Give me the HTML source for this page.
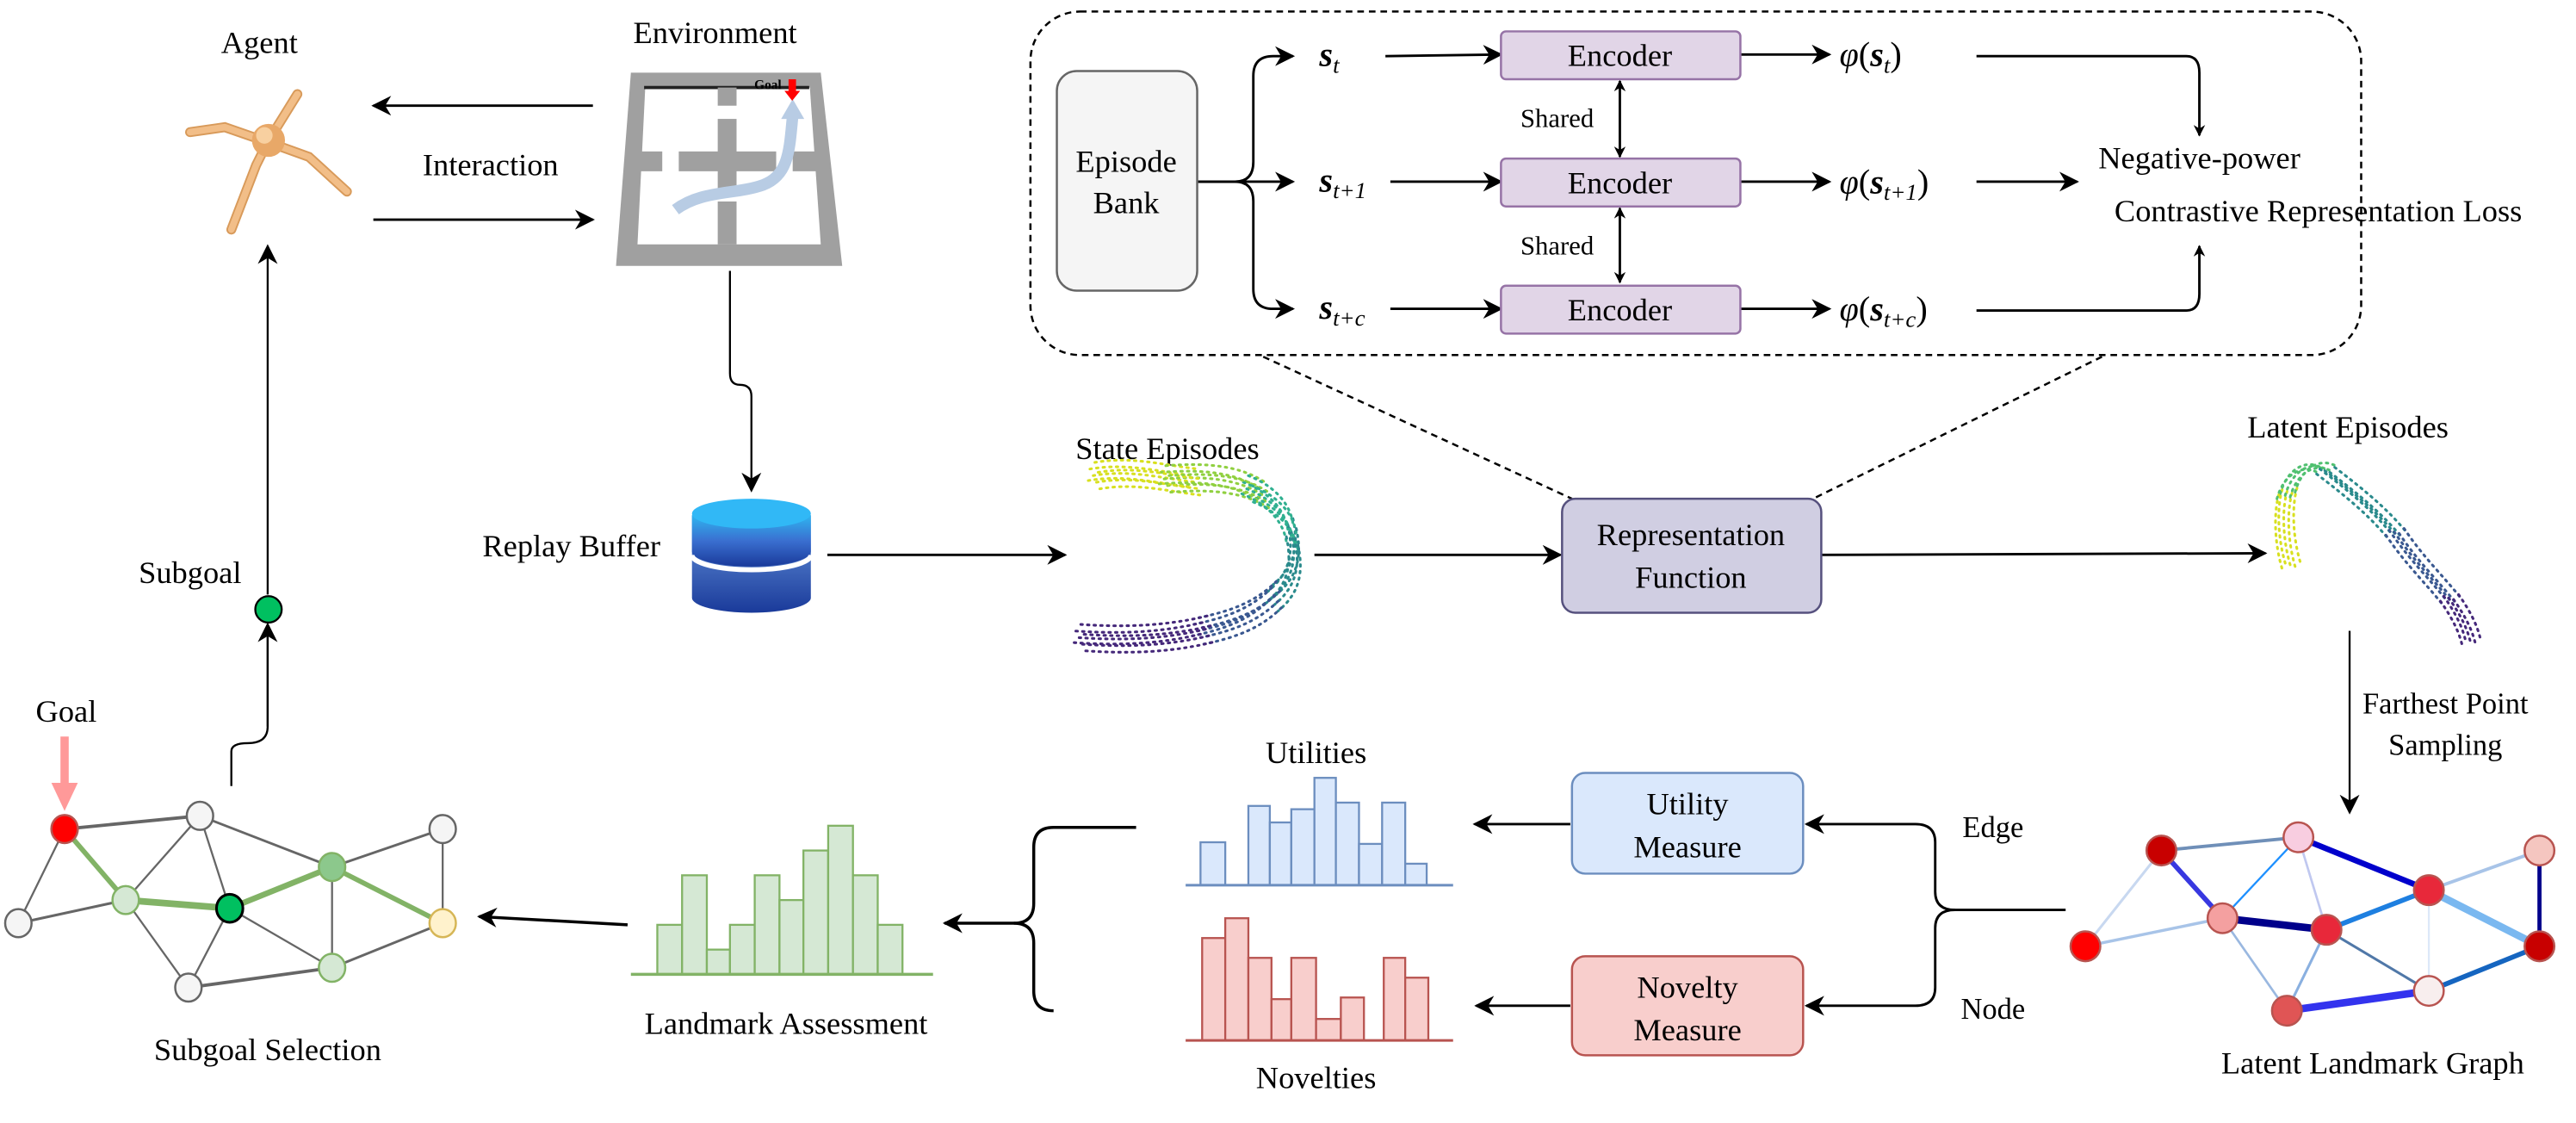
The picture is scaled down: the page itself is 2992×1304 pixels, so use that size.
<!DOCTYPE html>
<html><head><meta charset="utf-8"><style>html,body{margin:0;padding:0;background:#fff}svg{display:block}svg text{font-family:"Liberation Serif","Tinos","Times New Roman","Nimbus Roman","DejaVu Serif","Noto Serif CJK SC",serif}</style></head><body>
<svg width="2992" height="1304" viewBox="0 0 1560 680" xmlns="http://www.w3.org/2000/svg" font-size="19">
<defs>
<marker id="ar" viewBox="0 0 10 10" refX="9" refY="5" markerWidth="7" markerHeight="7" orient="auto-start-reverse" markerUnits="userSpaceOnUse"><path d="M0,0 L10,5 L0,10 L3,5 Z" fill="#000"/></marker>
<marker id="arb" viewBox="0 0 10 10" refX="9" refY="5" markerWidth="12" markerHeight="12" orient="auto-start-reverse" markerUnits="userSpaceOnUse"><path d="M0,0 L10,5 L0,10 L3,5 Z" fill="#000"/></marker>
<linearGradient id="cyl" x1="0" y1="0" x2="0" y2="1"><stop offset="0" stop-color="#2fb4f0"/><stop offset="0.5" stop-color="#3a6fd0"/><stop offset="1" stop-color="#1a3a9a"/></linearGradient>
<linearGradient id="cyl2" x1="0" y1="0" x2="0" y2="1"><stop offset="0" stop-color="#6a9ae0"/><stop offset="1" stop-color="#1a3a9a"/></linearGradient>
<g id="se" fill="none" stroke-width="1.6" stroke-dasharray="1,3" stroke-linecap="round">
<path d="M662,288 C685,284 705,290 725,292" stroke="#d8e020"/>
<path d="M705,290 C730,288 750,290 765,300" stroke="#90d040"/>
<path d="M755,296 C770,302 780,312 782,325" stroke="#30b090"/>
<path d="M782,322 C786,340 782,352 770,362" stroke="#2a8a8c"/>
<path d="M772,360 C760,372 745,378 725,382" stroke="#3a5890"/>
<path d="M730,381 C705,387 680,388 652,386" stroke="#45287a"/>
</g>
<g id="le" fill="none" stroke-width="1.6" stroke-dasharray="1,3" stroke-linecap="round">
<path d="M1387,342 C1382,325 1382,305 1386,295" stroke="#d8e020"/>
<path d="M1384,300 C1388,285 1400,278 1410,285" stroke="#50c070"/>
<path d="M1408,285 C1425,298 1440,310 1452,325" stroke="#2a8a8c"/>
<path d="M1450,322 C1462,340 1475,352 1485,365" stroke="#3a5890"/>
<path d="M1483,362 C1490,372 1494,380 1496,388" stroke="#45287a"/>
</g>
</defs>
<g fill="none" stroke="#000" stroke-width="1.5">
<rect x="624" y="7" width="806" height="208" rx="30" stroke-dasharray="4,3" stroke-width="1.3"/>
<line x1="765" y1="216" x2="952" y2="302" stroke-dasharray="4,3" stroke-width="1.3"/>
<line x1="1273" y1="216" x2="1098" y2="302" stroke-dasharray="4,3" stroke-width="1.3"/>
<path d="M725,110 H748 Q759,110 759,98 V46 Q759,34 771,34 H783" marker-end="url(#arb)"/>
<path d="M725,110 H783" marker-end="url(#arb)"/>
<path d="M748,110 Q759,110 759,122 V175 Q759,187 771,187 H783" marker-end="url(#arb)"/>
<line x1="839" y1="34" x2="909" y2="33" marker-end="url(#arb)"/>
<line x1="842" y1="110" x2="909" y2="110" marker-end="url(#arb)"/>
<line x1="842" y1="187" x2="909" y2="187" marker-end="url(#arb)"/>
<line x1="1054" y1="33" x2="1108" y2="33" marker-end="url(#arb)"/>
<line x1="1054" y1="110" x2="1108" y2="110" marker-end="url(#arb)"/>
<line x1="1054" y1="187" x2="1108" y2="187" marker-end="url(#arb)"/>
<line x1="981" y1="49" x2="981" y2="95" marker-start="url(#ar)" marker-end="url(#ar)"/>
<line x1="981" y1="126" x2="981" y2="171" marker-start="url(#ar)" marker-end="url(#ar)"/>
<path d="M1197,34 H1324 Q1332,34 1332,44 V82" marker-end="url(#ar)"/>
<line x1="1197" y1="110" x2="1258" y2="110" marker-end="url(#arb)"/>
<path d="M1197,188 H1324 Q1332,188 1332,178 V149" marker-end="url(#ar)"/>
<line x1="359" y1="64" x2="226" y2="64" marker-end="url(#arb)"/>
<line x1="226" y1="133" x2="359" y2="133" marker-end="url(#arb)"/>
<path d="M442,164 V226 Q442,233 448,233 Q455,233 455,240 V297" stroke-width="1.2" marker-end="url(#arb)"/>
<line x1="501" y1="336" x2="645" y2="336" marker-end="url(#arb)"/>
<line x1="796" y1="336" x2="945" y2="336" marker-end="url(#arb)"/>
<line x1="1103" y1="336" x2="1372" y2="335" marker-end="url(#arb)"/>
<line x1="1423" y1="382" x2="1423" y2="492" stroke-width="1.2" marker-end="url(#arb)"/>
<path d="M1251,551 H1184 Q1172,551 1172,540 V510 Q1172,499 1160,499 H1094" marker-end="url(#arb)"/>
<path d="M1184,551 Q1172,551 1172,562 V598 Q1172,609 1160,609 H1094" marker-end="url(#arb)"/>
<line x1="951" y1="499" x2="893" y2="499" marker-end="url(#arb)"/>
<line x1="951" y1="609" x2="894" y2="609" marker-end="url(#arb)"/>
<path d="M688,501 H638 Q626,501 626,513 V547 Q626,559 614,559 H572" stroke-width="1.8" marker-end="url(#arb)"/>
<path d="M638,612 Q626,612 626,600 V571 Q626,559 614,559" stroke-width="1.8"/>
<line x1="380" y1="560" x2="290" y2="555" stroke-width="1.8" marker-end="url(#arb)"/>
<path d="M140,476 V455 Q140,450 150,450 Q162,450 162,440 V379" stroke-width="1.2"/>
<line x1="162" y1="360" x2="162" y2="149" stroke-width="1.2" marker-end="url(#arb)"/>
<line x1="162" y1="440" x2="162" y2="378" stroke-width="1.2" marker-end="url(#arb)"/>
</g>
<ellipse cx="162.5" cy="369" rx="8" ry="8" fill="#00c060" stroke="#000" stroke-width="1.2"/>
<rect x="640" y="43" width="85" height="133" rx="12" fill="#f5f5f5" stroke="#666" stroke-width="1.3"/>
<text x="682" y="104" text-anchor="middle">Episode</text>
<text x="682" y="129" text-anchor="middle">Bank</text>
<g fill="#e1d5e7" stroke="#9673a6" stroke-width="1.3">
<rect x="909" y="19" width="145" height="29" rx="3"/>
<rect x="909" y="96" width="145" height="29" rx="3"/>
<rect x="909" y="173" width="145" height="29" rx="3"/>
</g>
<g text-anchor="middle">
<text x="981" y="40">Encoder</text><text x="981" y="117">Encoder</text><text x="981" y="194">Encoder</text>
<text x="943" y="77" font-size="16">Shared</text><text x="943" y="154" font-size="16">Shared</text>
</g>
<g font-style="italic" font-weight="bold" font-size="21">
<text x="799" y="40">s<tspan font-size="14" dy="4" font-weight="normal">t</tspan></text>
<text x="799" y="116">s<tspan font-size="14" dy="4" font-weight="normal">t+1</tspan></text>
<text x="799" y="193">s<tspan font-size="14" dy="4" font-weight="normal">t+c</tspan></text>
</g>
<g font-size="21">
<text x="1114" y="40"><tspan font-style="italic">φ</tspan>(<tspan font-style="italic" font-weight="bold">s</tspan><tspan font-size="14" dy="4" font-style="italic">t</tspan><tspan dy="-4">)</tspan></text>
<text x="1114" y="117"><tspan font-style="italic">φ</tspan>(<tspan font-style="italic" font-weight="bold">s</tspan><tspan font-size="14" dy="4" font-style="italic">t+1</tspan><tspan dy="-4">)</tspan></text>
<text x="1114" y="194"><tspan font-style="italic">φ</tspan>(<tspan font-style="italic" font-weight="bold">s</tspan><tspan font-size="14" dy="4" font-style="italic">t+c</tspan><tspan dy="-4">)</tspan></text>
</g>
<text x="1332" y="102" text-anchor="middle">Negative-power</text>
<text x="1404" y="134" text-anchor="middle">Contrastive Representation Loss</text>
<rect x="946" y="302" width="157" height="69" rx="8" fill="#d0cee2" stroke="#56517e" stroke-width="1.3"/>
<text x="1024" y="330" text-anchor="middle">Representation</text>
<text x="1024" y="356" text-anchor="middle">Function</text>
<g text-anchor="middle">
<text x="157" y="32">Agent</text>
<text x="433" y="26">Environment</text>
<text x="297" y="106">Interaction</text>
<text x="346" y="337">Replay Buffer</text>
<text x="115" y="353">Subgoal</text>
<text x="40" y="437">Goal</text>
<text x="707" y="278">State Episodes</text>
<text x="1422" y="265">Latent Episodes</text>
<text x="1481" y="432" font-size="18">Farthest Point</text>
<text x="1481" y="457" font-size="18">Sampling</text>
<text x="1207" y="507" font-size="18">Edge</text>
<text x="1207" y="617" font-size="18">Node</text>
<text x="1437" y="650">Latent Landmark Graph</text>
<text x="797" y="462">Utilities</text>
<text x="797" y="659">Novelties</text>
<text x="476" y="626">Landmark Assessment</text>
<text x="162" y="642">Subgoal Selection</text>
</g>
<rect x="952" y="468" width="140" height="61" rx="8" fill="#dae8fc" stroke="#6c8ebf" stroke-width="1.3"/>
<text x="1022" y="493" text-anchor="middle">Utility</text><text x="1022" y="519" text-anchor="middle">Measure</text>
<rect x="952" y="579" width="140" height="60" rx="8" fill="#f8cecc" stroke="#b85450" stroke-width="1.3"/>
<text x="1022" y="604" text-anchor="middle">Novelty</text><text x="1022" y="630" text-anchor="middle">Measure</text>
<g fill="#dae8fc" stroke="#6c8ebf" stroke-width="1.2">
<rect x="727" y="510" width="15" height="26"/><rect x="756" y="488" width="13" height="48"/><rect x="769" y="498" width="13" height="38"/><rect x="782" y="490" width="14" height="46"/><rect x="796" y="471" width="13" height="65"/><rect x="809" y="486" width="14" height="50"/><rect x="823" y="511" width="14" height="25"/><rect x="837" y="486" width="14" height="50"/><rect x="851" y="523" width="13" height="13"/>
<line x1="718" y1="536" x2="880" y2="536" stroke-width="1.6"/>
</g>
<g fill="#f8cecc" stroke="#b85450" stroke-width="1.2">
<rect x="728" y="568" width="14" height="62"/><rect x="742" y="556" width="14" height="74"/><rect x="756" y="580" width="14" height="50"/><rect x="770" y="605" width="12" height="25"/><rect x="782" y="580" width="15" height="50"/><rect x="797" y="617" width="15" height="13"/><rect x="812" y="604" width="14" height="26"/><rect x="838" y="580" width="13" height="50"/><rect x="851" y="592" width="14" height="38"/>
<line x1="718" y1="630" x2="880" y2="630" stroke-width="1.6"/>
</g>
<g fill="#d5e8d4" stroke="#82b366" stroke-width="1.2">
<rect x="398" y="560" width="15" height="30"/><rect x="413" y="530" width="15" height="60"/><rect x="428" y="575" width="14" height="15"/><rect x="442" y="560" width="15" height="30"/><rect x="457" y="530" width="15" height="60"/><rect x="472" y="545" width="14.5" height="45"/><rect x="486.5" y="515" width="15" height="75"/><rect x="501.5" y="500" width="15" height="90"/><rect x="516.5" y="530" width="15" height="60"/><rect x="531.5" y="560" width="15" height="30"/>
<line x1="382" y1="590" x2="565" y2="590" stroke-width="1.8"/>
</g>
<g stroke="#666" stroke-width="1.2">
<line x1="39" y1="502" x2="121" y2="494" stroke-width="2"/>
<line x1="39" y1="502" x2="11" y2="559"/>
<line x1="76" y1="545" x2="11" y2="559" stroke-width="1.6"/>
<line x1="76" y1="545" x2="121" y2="494"/>
<line x1="121" y1="494" x2="139" y2="550"/>
<line x1="121" y1="494" x2="201" y2="525" stroke-width="1.5"/>
<line x1="76" y1="545" x2="114" y2="598"/>
<line x1="139" y1="550" x2="114" y2="598"/>
<line x1="139" y1="550" x2="201" y2="586"/>
<line x1="201" y1="525" x2="268" y2="502" stroke-width="1.5"/>
<line x1="201" y1="525" x2="201" y2="586"/>
<line x1="268" y1="502" x2="268" y2="559"/>
<line x1="268" y1="559" x2="201" y2="586" stroke-width="1.5"/>
<line x1="114" y1="598" x2="201" y2="586" stroke-width="2"/>
</g>
<g stroke="#82b366" stroke-linecap="round">
<line x1="39" y1="502" x2="76" y2="545" stroke-width="3"/>
<line x1="76" y1="545" x2="139" y2="550" stroke-width="4"/>
<line x1="139" y1="550" x2="201" y2="525" stroke-width="3.5"/>
<line x1="201" y1="525" x2="268" y2="559" stroke-width="3"/>
</g>
<g stroke-width="1.3">
<ellipse cx="39" cy="502" rx="8" ry="8.5" fill="#ff0000" stroke="#b85450"/>
<ellipse cx="121" cy="494" rx="8" ry="8.5" fill="#f5f5f5" stroke="#666"/>
<ellipse cx="268" cy="502" rx="8" ry="8.5" fill="#f5f5f5" stroke="#666"/>
<ellipse cx="11" cy="559" rx="8" ry="8.5" fill="#f5f5f5" stroke="#666"/>
<ellipse cx="76" cy="545" rx="8" ry="8.5" fill="#d5e8d4" stroke="#82b366"/>
<ellipse cx="139" cy="550" rx="8" ry="8.5" fill="#00c060" stroke="#000" stroke-width="1.6"/>
<ellipse cx="201" cy="525" rx="8" ry="8.5" fill="#8cc88c" stroke="#82b366"/>
<ellipse cx="268" cy="559" rx="8" ry="8.5" fill="#fff2cc" stroke="#d6b656"/>
<ellipse cx="114" cy="598" rx="8" ry="8.5" fill="#f5f5f5" stroke="#666"/>
<ellipse cx="201" cy="586" rx="8" ry="8.5" fill="#d5e8d4" stroke="#82b366"/>
</g>
<line x1="39" y1="446" x2="39" y2="478" stroke="#ff9999" stroke-width="5"/>
<path d="M31,474 L47,474 L39,491 Z" fill="#ff9999"/>
<g stroke-linecap="round">
<line x1="1309" y1="515" x2="1392" y2="507" stroke="#6f8fb8" stroke-width="2"/>
<line x1="1309" y1="515" x2="1346" y2="556" stroke="#3838e0" stroke-width="3"/>
<line x1="1309" y1="515" x2="1263" y2="573" stroke="#c8d8f0" stroke-width="1.6"/>
<line x1="1263" y1="573" x2="1346" y2="556" stroke="#a8c4e8" stroke-width="1.8"/>
<line x1="1392" y1="507" x2="1346" y2="556" stroke="#1e90ff" stroke-width="1.2"/>
<line x1="1392" y1="507" x2="1409" y2="563" stroke="#c0c8f0" stroke-width="1.4"/>
<line x1="1392" y1="507" x2="1471" y2="539" stroke="#0000cc" stroke-width="3.5"/>
<line x1="1346" y1="556" x2="1409" y2="563" stroke="#00008b" stroke-width="4.5"/>
<line x1="1346" y1="556" x2="1385" y2="612" stroke="#9ab8e0" stroke-width="1.4"/>
<line x1="1409" y1="563" x2="1385" y2="612" stroke="#8ab0e0" stroke-width="1.6"/>
<line x1="1409" y1="563" x2="1471" y2="539" stroke="#1e7fe0" stroke-width="3"/>
<line x1="1409" y1="563" x2="1471" y2="600" stroke="#5078a8" stroke-width="1.6"/>
<line x1="1471" y1="539" x2="1538" y2="515" stroke="#a8c4e8" stroke-width="2"/>
<line x1="1471" y1="539" x2="1538" y2="573" stroke="#7ab8f0" stroke-width="4.5"/>
<line x1="1471" y1="539" x2="1471" y2="600" stroke="#dde8f8" stroke-width="1.2"/>
<line x1="1538" y1="515" x2="1538" y2="573" stroke="#00008b" stroke-width="2.5"/>
<line x1="1538" y1="573" x2="1471" y2="600" stroke="#1565c0" stroke-width="3"/>
<line x1="1385" y1="612" x2="1471" y2="600" stroke="#3333ee" stroke-width="4.5"/>
</g>
<g stroke="#b85450" stroke-width="1.3">
<circle cx="1309" cy="515" r="9" fill="#c80000"/>
<circle cx="1392" cy="507" r="9" fill="#f8cde0"/>
<circle cx="1538" cy="515" r="9" fill="#f5c6c0"/>
<circle cx="1263" cy="573" r="9" fill="#ff0000"/>
<circle cx="1346" cy="556" r="9" fill="#f4a0a0"/>
<circle cx="1409" cy="563" r="9" fill="#e8283a"/>
<circle cx="1471" cy="539" r="9" fill="#e8283a"/>
<circle cx="1538" cy="573" r="9" fill="#c80000"/>
<circle cx="1385" cy="612" r="9" fill="#e05555"/>
<circle cx="1471" cy="600" r="9" fill="#f8eeee"/>
</g>
<polygon points="382,44 497,44 510,161 373,161" fill="#a0a0a0"/>
<polygon points="390.7,53 490.4,53 497,148 386,148" fill="#fff"/>
<line x1="390" y1="53" x2="490" y2="53" stroke="#222" stroke-width="2"/>
<g fill="#a0a0a0">
<rect x="434.6" y="53" width="11.4" height="11"/>
<rect x="434.6" y="72" width="11.4" height="43"/>
<rect x="411" y="91.7" width="59" height="12"/>
<rect x="434.6" y="122" width="11.4" height="26"/>
<rect x="387" y="91.7" width="14" height="12"/>
<rect x="480" y="91.7" width="14" height="12"/>
</g>
<path d="M409,127 C425,115 445,118 462,112 C478,106 478,90 480,70" fill="none" stroke="#b8cce4" stroke-width="7"/>
<path d="M473,72 L480,60 L487,72 Z" fill="#b8cce4"/>
<rect x="477.5" y="48" width="4.5" height="8" fill="#ff0000"/><path d="M475,55 L484.5,55 L479.7,61 Z" fill="#ff0000"/>
<text x="465" y="54" font-size="8" font-weight="bold" text-anchor="middle">Goal</text>
<g stroke="#d89a5a" stroke-width="6" stroke-linecap="round" fill="none">
<path d="M162,86 L180,57"/><path d="M162,86 L136,77 L115,80"/><path d="M162,86 L187,95 L210,116"/><path d="M162,86 L155,100 L140,139"/>
</g>
<g stroke="#f2be88" stroke-width="4" stroke-linecap="round" fill="none">
<path d="M162,86 L180,57"/><path d="M162,86 L136,77 L115,80"/><path d="M162,86 L187,95 L210,116"/><path d="M162,86 L155,100 L140,139"/>
</g>
<circle cx="162.5" cy="85" r="10" fill="#e8a868"/><circle cx="160" cy="82" r="5" fill="#f8d0a0"/>
<path d="M419,312 V362 A36,9 0 0 0 491,362 V312 Z" fill="url(#cyl2)"/>
<path d="M419,312 V334 A36,9 0 0 0 491,334 V312 Z" fill="url(#cyl)"/>
<path d="M419,336 A36,9 0 0 0 491,336" fill="none" stroke="#fff" stroke-width="3"/>
<ellipse cx="455" cy="311" rx="36" ry="9" fill="#31b8f6"/>
<use href="#se"/><use href="#se" transform="translate(2,4)"/><use href="#se" transform="translate(-2,-4)"/><use href="#se" transform="translate(4,8)"/><use href="#se" transform="translate(1,-8)"/><use href="#se" transform="translate(-3,3)"/><use href="#se" transform="translate(3,-2)"/>
<use href="#le"/><use href="#le" transform="translate(3,1)"/><use href="#le" transform="translate(-3,-1)"/><use href="#le" transform="translate(6,-2)"/><use href="#le" transform="translate(-5,2)"/>
</svg>
</body></html>
